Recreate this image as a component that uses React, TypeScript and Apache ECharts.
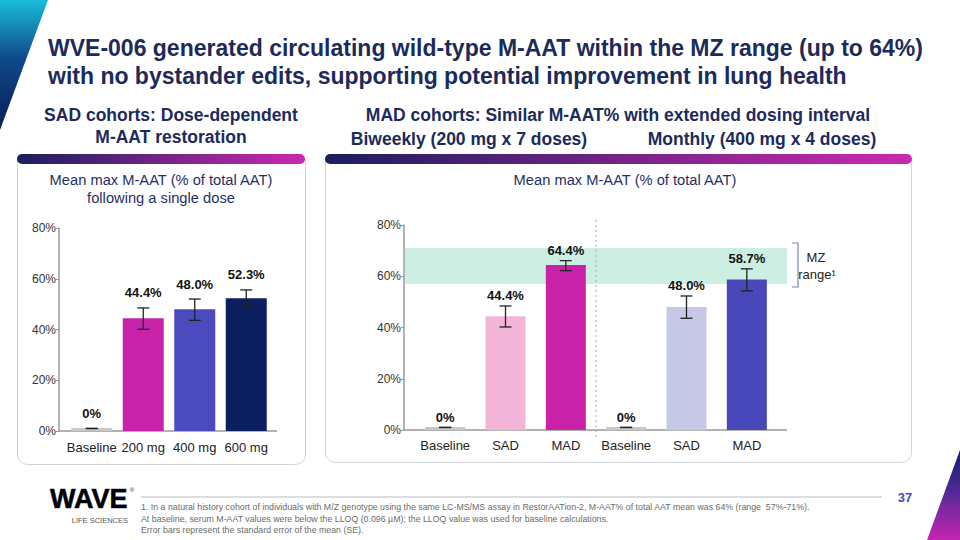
import { useEffect, useRef } from "react";
import * as echarts from "echarts";

const FONT = "'Liberation Sans', Arial, sans-serif";
const NAVY = "#1c2a5c";

// y axis
const yMin = 0;
const yMax = 80;
const yStep = 20;

// SAD cohorts (single dose)
const sadCategories = ["Baseline", "200 mg", "400 mg", "600 mg"];
const sadValues = [0, 44.4, 48.0, 52.3];
const sadErrLow = [1, 40.1, 43.6, 48.9];
const sadErrHigh = [1, 48.5, 52.0, 55.6];
const sadColors = ["#c8c8c8", "#c823a8", "#4b4bbf", "#0c1f5e"];

// MAD cohorts: biweekly (first three), monthly (last three)
const madCategories = ["Baseline", "SAD", "MAD", "Baseline", "SAD", "MAD"];
const madValues = [0, 44.4, 64.4, 0, 48.0, 58.7];
const madErrLow = [1, 40.2, 62.2, 1, 43.6, 54.3];
const madErrHigh = [1, 48.4, 66.1, 1, 52.3, 62.9];
const madColors = ["#c8c8c8", "#f2b5d8", "#c823a8", "#c8c8c8", "#c6c8e7", "#4848ba"];

// MZ genotype range (57%-71%)
const mzRange = [57, 71];

const pctLabel = (v: number) => (v === 0 ? "0%" : v.toFixed(1) + "%");

const errorBars = (labelGap: number) => (params: any, api: any) => {
  const i = api.value(0);
  const lo = api.coord([i, api.value(1)]);
  const hi = api.coord([i, api.value(2)]);
  const mean = api.value(3);
  const cap = 6;
  const ls = { stroke: "#222", lineWidth: 1.3 };
  return {
    type: "group",
    children: [
      { type: "line", shape: { x1: hi[0], y1: hi[1], x2: lo[0], y2: lo[1] }, style: ls },
      { type: "line", shape: { x1: hi[0] - cap, y1: hi[1], x2: hi[0] + cap, y2: hi[1] }, style: ls },
      { type: "line", shape: { x1: lo[0] - cap, y1: lo[1], x2: lo[0] + cap, y2: lo[1] }, style: ls },
      {
        type: "text",
        x: hi[0],
        y: hi[1] - labelGap,
        style: {
          text: pctLabel(mean),
          fill: "#111",
          font: `bold 13px ${FONT}`,
          align: "center",
          verticalAlign: "middle",
        },
      },
    ],
  };
};

// x axis baseline drawn a bit wider than the category bands
const baseLine = (padL: number, padR: number) => (params: any) => {
  const cs = params.coordSys;
  return {
    type: "line",
    shape: { x1: cs.x - padL, y1: cs.y + cs.height, x2: cs.x + cs.width + padR, y2: cs.y + cs.height },
    style: { stroke: "#999", lineWidth: 1.5 },
  };
};

const madFrame = (params: any, api: any) => {
  const cs = params.coordSys;
  const top = api.coord([0, mzRange[1]])[1];
  const bottom = api.coord([0, mzRange[0]])[1];
  const bw = api.size([1, 0])[0];
  const sepX = api.coord([2, 0])[0] + bw / 2;
  return {
    type: "group",
    children: [
      {
        type: "rect",
        shape: { x: cs.x - 10, y: top, width: cs.width + 20, height: bottom - top },
        style: { fill: "#cdeee3" },
      },
      {
        type: "line",
        shape: { x1: sepX, y1: cs.y - 5, x2: sepX, y2: cs.y + cs.height + 8 },
        style: { stroke: "#aaa", lineWidth: 1, lineDash: [2, 3] },
      },
      {
        type: "line",
        shape: { x1: cs.x - 11, y1: cs.y + cs.height, x2: cs.x + cs.width + 10, y2: cs.y + cs.height },
        style: { stroke: "#999", lineWidth: 1.5 },
      },
    ],
  };
};

const yAxisBase = (gridIndex: number, offset: number) => ({
  gridIndex,
  type: "value",
  min: yMin,
  max: yMax,
  interval: yStep,
  offset,
  axisLine: { show: true, lineStyle: { color: "#999", width: 1.5 } },
  axisTick: { show: true, length: 3, lineStyle: { color: "#999" } },
  splitLine: { show: false },
  axisLabel: { formatter: "{value}%", color: "#333", fontSize: 12, margin: 3, fontFamily: FONT },
});

const xAxisBase = (gridIndex: number, data: string[], margin: number) => ({
  gridIndex,
  type: "category",
  data,
  axisLine: { show: false },
  axisTick: { show: false },
  axisLabel: { color: "#222", fontSize: 13, margin, fontFamily: FONT, interval: 0 },
});

const hGrad = (from: string, to: string) => ({
  type: "linear",
  x: 0,
  y: 0,
  x2: 1,
  y2: 0,
  colorStops: [
    { offset: 0, color: from },
    { offset: 1, color: to },
  ],
});

const txt = (text: string, x: number, y: number, font: string, fill: string, align = "center") => ({
  type: "text",
  x,
  y,
  style: { text, font, fill, align, verticalAlign: "middle" },
});

const App = () => {
  const chartRef = useRef<HTMLDivElement>(null);

  useEffect(() => {
    if (!chartRef.current) return;
    const chart = echarts.init(chartRef.current, undefined, { renderer: "svg" });

    const titleFont = `bold 23px ${FONT}`;
    const subFont = `bold 17.5px ${FONT}`;
    const panelFont = `14.7px ${FONT}`;
    const footFont = `8.8px ${FONT}`;

    const option = {
      animation: false,
      backgroundColor: "#ffffff",
      textStyle: { fontFamily: FONT },
      grid: [
        { left: 66, top: 228, width: 206, height: 203 },
        { left: 415, top: 225, width: 362, height: 205 },
      ],
      xAxis: [xAxisBase(0, sadCategories, 10), xAxisBase(1, madCategories, 9)],
      yAxis: [yAxisBase(0, 7), yAxisBase(1, 11)],
      series: [
        {
          type: "custom",
          xAxisIndex: 0,
          yAxisIndex: 0,
          z: 1,
          silent: true,
          data: [[0]],
          renderItem: baseLine(7, 5),
        },
        {
          type: "bar",
          xAxisIndex: 0,
          yAxisIndex: 0,
          barWidth: 41,
          barMinHeight: 3,
          z: 2,
          data: sadValues.map((v, i) => ({ value: v, itemStyle: { color: sadColors[i] } })),
        },
        {
          type: "custom",
          xAxisIndex: 0,
          yAxisIndex: 0,
          z: 3,
          encode: { x: 0, y: [1, 2] },
          data: sadValues.map((v, i) => [i, sadErrLow[i], sadErrHigh[i], v]),
          renderItem: errorBars(15),
        },
        {
          type: "custom",
          xAxisIndex: 1,
          yAxisIndex: 1,
          z: 1,
          silent: true,
          data: [[0]],
          renderItem: madFrame,
        },
        {
          type: "bar",
          xAxisIndex: 1,
          yAxisIndex: 1,
          barWidth: 40,
          barMinHeight: 3,
          z: 2,
          data: madValues.map((v, i) => ({ value: v, itemStyle: { color: madColors[i] } })),
        },
        {
          type: "custom",
          xAxisIndex: 1,
          yAxisIndex: 1,
          z: 3,
          encode: { x: 0, y: [1, 2] },
          data: madValues.map((v, i) => [i, madErrLow[i], madErrHigh[i], v]),
          renderItem: errorBars(10),
        },
      ],
      graphic: [
        // corner decorations
        {
          type: "polygon",
          shape: { points: [[0, 0], [48, 0], [0, 130]] },
          style: {
            fill: {
              type: "linear", x: 0, y: 0, x2: 0, y2: 1,
              colorStops: [
                { offset: 0, color: "#19bdd8" },
                { offset: 0.45, color: "#0f4a8a" },
                { offset: 1, color: "#0b1b58" },
              ],
            },
          },
        },
        {
          type: "polygon",
          shape: { points: [[960, 450], [960, 540], [927, 540]] },
          style: {
            fill: {
              type: "linear", x: 0, y: 0, x2: 0, y2: 1,
              colorStops: [
                { offset: 0, color: "#0e1f6b" },
                { offset: 0.5, color: "#5a2a9a" },
                { offset: 1, color: "#c525b0" },
              ],
            },
          },
        },
        // headline
        txt("WVE-006 generated circulating wild-type M-AAT within the MZ range (up to 64%)", 48, 48, titleFont, NAVY, "left"),
        txt("with no bystander edits, supporting potential improvement in lung health", 48, 76, titleFont, NAVY, "left"),
        // section headers
        txt("SAD cohorts: Dose-dependent", 171, 115, subFont, NAVY),
        txt("M-AAT restoration", 171, 137, subFont, NAVY),
        txt("MAD cohorts: Similar M-AAT% with extended dosing interval", 618, 115, subFont, NAVY),
        txt("Biweekly (200 mg x 7 doses)", 469, 139, subFont, NAVY),
        txt("Monthly (400 mg x 4 doses)", 762, 139, subFont, NAVY),
        // panels
        {
          type: "rect",
          shape: { x: 17.5, y: 159.5, width: 288, height: 305, r: [0, 0, 10, 10] },
          style: { fill: "#fff", stroke: "#cfd3da", lineWidth: 1 },
        },
        {
          type: "rect",
          shape: { x: 325.5, y: 159.5, width: 586, height: 303, r: [0, 0, 10, 10] },
          style: { fill: "#fff", stroke: "#cfd3da", lineWidth: 1 },
        },
        {
          type: "rect",
          shape: { x: 17, y: 154, width: 288, height: 10, r: 5 },
          style: { fill: hGrad("#1b1f5c", "#cc29b0") },
        },
        {
          type: "rect",
          shape: { x: 325, y: 154, width: 587, height: 10, r: 5 },
          style: { fill: hGrad("#1b1f5c", "#cc29b0") },
        },
        txt("Mean max M-AAT (% of total AAT)", 161, 180, panelFont, "#1f2f66"),
        txt("following a single dose", 161, 198, panelFont, "#1f2f66"),
        txt("Mean max M-AAT (% of total AAT)", 625, 180, panelFont, "#1f2f66"),
        // MZ range bracket
        {
          type: "polyline",
          shape: { points: [[792, 243], [798, 243], [798, 287], [792, 287]] },
          style: { stroke: "#7a86a6", lineWidth: 1.2, fill: null },
        },
        txt("MZ", 816, 257, `13px ${FONT}`, "#222"),
        txt("range\u00b9", 817, 274, `13px ${FONT}`, "#222"),
        // footer
        {
          type: "line",
          shape: { x1: 141, y1: 497, x2: 882, y2: 497 },
          style: { stroke: "#b8bcc6", lineWidth: 1 },
        },
        txt("37", 905, 497, `bold 13px ${FONT}`, "#4a4abf"),
        txt(
          "1. In a natural history cohort of individuals with M/Z genotype using the same LC-MS/MS assay in RestorAATion-2, M-AAT% of total AAT mean was 64% (range  57%-71%).",
          141, 507, footFont, "#6b6b6b", "left"
        ),
        txt(
          "At baseline, serum M-AAT values were below the LLOQ (0.096 \u00b5M); the LLOQ value was used for baseline calculations.",
          141, 519, footFont, "#6b6b6b", "left"
        ),
        txt("Error bars represent the standard error of the mean (SE).", 141, 530, footFont, "#6b6b6b", "left"),
        // logo
        {
          type: "text",
          x: 50,
          y: 499,
          style: {
            text: "WAVE",
            font: `900 27px ${FONT}`,
            fill: {
              type: "linear", x: 0, y: 0, x2: 1, y2: 0,
              colorStops: [
                { offset: 0, color: "#1a1f5e" },
                { offset: 0.35, color: "#1a1f5e" },
                { offset: 0.55, color: "#6a2aa8" },
                { offset: 0.7, color: "#1a1f5e" },
                { offset: 1, color: "#1a1f5e" },
              ],
            },
            stroke: "#1a1f5e",
            lineWidth: 0.6,
            align: "left",
            verticalAlign: "middle",
          },
        },
        txt("\u00ae", 132, 490, `6px ${FONT}`, "#1a1f5e"),
        txt("LIFE SCIENCES", 128, 520, `7.5px ${FONT}`, "#555", "right"),
      ],
    };

    chart.setOption(option as any);

    return () => {
      chart.dispose();
    };
  }, []);

  return (
    <div
      ref={chartRef}
      style={{ position: "absolute", left: 0, top: 0, width: 960, height: 540 }}
    />
  );
};

export default App;
